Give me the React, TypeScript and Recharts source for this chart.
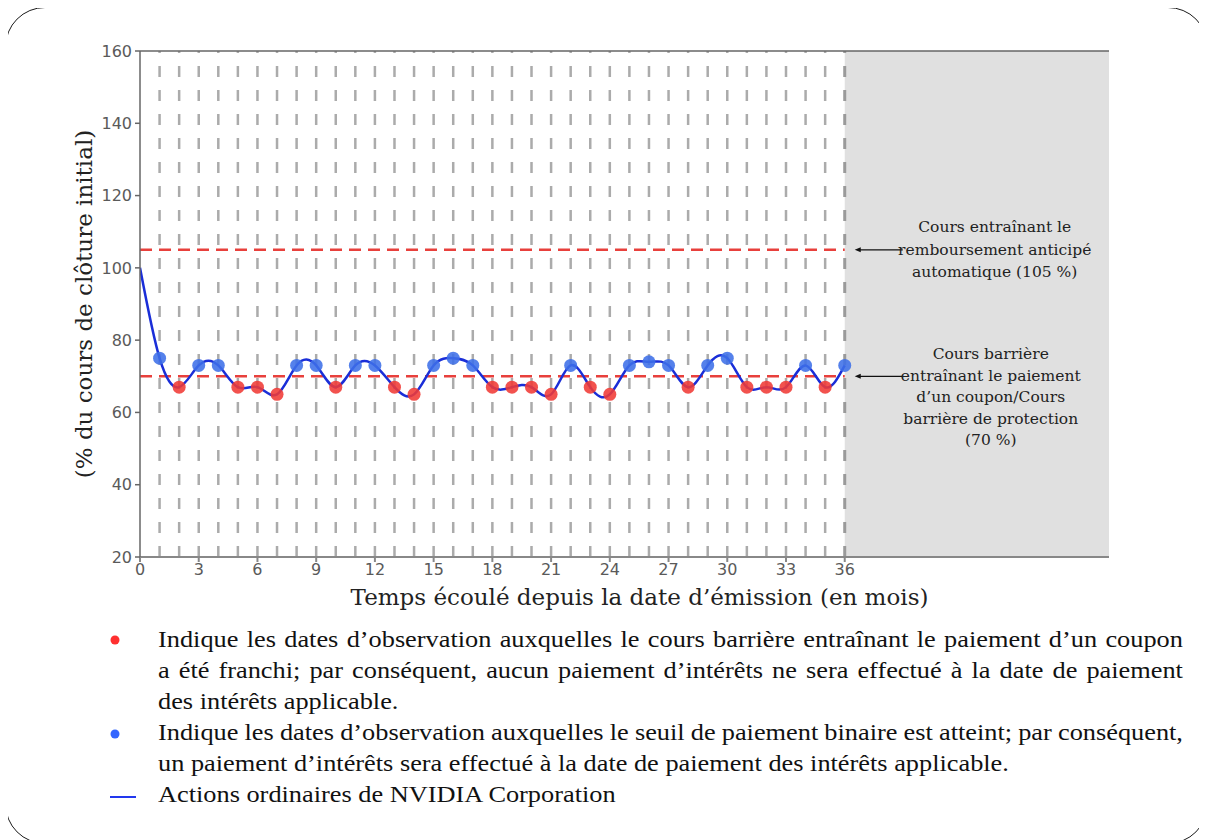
import React from 'react';
import {
  ComposedChart,
  Line,
  Scatter,
  XAxis,
  YAxis,
  ReferenceLine,
  ReferenceArea,
  ReferenceDot,
} from 'recharts';

// ---- data ----
const months = [0, 1, 2, 3, 4, 5, 6, 7, 8, 9, 10, 11, 12, 13, 14, 15, 16, 17, 18, 19, 20, 21, 22, 23, 24, 25, 26, 27, 28, 29, 30, 31, 32, 33, 34, 35, 36];
const closingLevels = [100, 75, 67, 73, 73, 67, 67, 65, 73, 73, 67, 73, 73, 67, 65, 73, 75, 73, 67, 67, 67, 65, 73, 67, 65, 73, 74, 73, 67, 73, 75, 67, 67, 67, 73, 67, 73];
const xTicks = [0, 3, 6, 9, 12, 15, 18, 21, 24, 27, 30, 33, 36];
const yTicks = [20, 40, 60, 80, 100, 120, 140, 160];
const gridMonths = [1, 2, 3, 4, 5, 6, 7, 8, 9, 10, 11, 12, 13, 14, 15, 16, 17, 18, 19, 20, 21, 22, 23, 24, 25, 26, 27, 28, 29, 30, 31, 32, 33, 34, 35];
const autocallLevel = 105;
const barrierLevel = 70;
const lastObservation = 36;
const axisEnd = 49.5;

const autocallText = ['Cours entraînant le', 'remboursement anticipé', 'automatique (105 %)'];
const barrierText = ['Cours barrière', 'entraînant le paiement', 'd’un coupon/Cours', 'barrière de protection', '(70 %)'];

const legendRed = [
  'Indique les dates d’observation auxquelles le cours barrière entraînant le paiement d’un coupon',
  'a été franchi; par conséquent, aucun paiement d’intérêts ne sera effectué à la date de paiement',
  'des intérêts applicable.',
];
const legendBlue = [
  'Indique les dates d’observation auxquelles le seuil de paiement binaire est atteint; par conséquent,',
  'un paiement d’intérêts sera effectué à la date de paiement des intérêts applicable.',
];
const legendLine = 'Actions ordinaires de NVIDIA Corporation';

const chartData = months.map((m, i) => ({ m, v: closingLevels[i] }));
const redPoints = chartData.filter((d) => d.m > 0 && d.v < barrierLevel);
const bluePoints = chartData.filter((d) => d.m > 0 && d.v >= barrierLevel);

const SERIF = '"DejaVu Serif", serif';
const TIMES = '"Liberation Serif", "Times New Roman", serif';

const redDot = (p: any) => <circle cx={p.cx} cy={p.cy} r={6.5} fill="#f03a36" fillOpacity={0.88} />;
const blueDot = (p: any) => <circle cx={p.cx} cy={p.cy} r={6.5} fill="#3d6fe8" fillOpacity={0.88} />;

const makeAnnotation = (lines: string[], dxText: number, firstDy: number, lh: number) => (p: any) => {
  const { cx, cy } = p;
  return (
    <g>
      <line x1={cx + 13} y1={cy} x2={cx + 58} y2={cy} stroke="#111" strokeWidth={1.2} />
      <polygon points={`${cx + 10},${cy} ${cx + 16},${cy - 2.5} ${cx + 16},${cy + 2.5}`} fill="#111" />
      <text x={cx + dxText} y={cy} textAnchor="middle" fontFamily={SERIF} fontSize={15.5} fill="#222">
        {lines.map((t, i) => (
          <tspan key={i} x={cx + dxText} y={cy + firstDy + i * lh} dominantBaseline="central">
            {t}
          </tspan>
        ))}
      </text>
    </g>
  );
};

const YLabel = (props: any) => {
  const vb = props.viewBox || {};
  const x = vb.x + 4;
  const y = vb.y + vb.height / 2;
  return (
    <text x={x} y={y} transform={`rotate(-90 ${x} ${y})`} textAnchor="middle" dominantBaseline="central" fontFamily={SERIF} fontSize={23} fill="#222">
      (% du cours de clôture initial)
    </text>
  );
};

const XLabel = (props: any) => {
  const vb = props.viewBox || {};
  const x = vb.x + vb.width / 2 + 15;
  const y = vb.y + 40;
  return (
    <text x={x} y={y} textAnchor="middle" dominantBaseline="central" fontFamily={SERIF} fontSize={23} fill="#222">
      Temps écoulé depuis la date d’émission (en mois)
    </text>
  );
};

const lineStyle: React.CSSProperties = {
  height: 31,
  lineHeight: '31px',
  whiteSpace: 'nowrap',
};

const JustifiedLine = ({ text }: { text: string }) => (
  <div style={{ ...lineStyle, display: 'flex', justifyContent: 'space-between' }}>
    {text.split(' ').map((w, i) => (
      <span key={i}>{w}</span>
    ))}
  </div>
);

export default function App() {
  const scale = 1.12;
  const textWidth = 1025 / scale;
  const renderLines = (lines: string[]) =>
    lines.map((t, i) =>
      i < lines.length - 1 ? (
        <JustifiedLine key={i} text={t} />
      ) : (
        <div key={i} style={lineStyle}>
          {t}
        </div>
      )
    );

  return (
    <div style={{ position: 'relative', width: 1199, height: 832 }}>
      <div
        style={{
          position: 'absolute',
          left: -3,
          top: -1,
          width: 1203,
          height: 837,
          border: '1.5px solid #1a1a1a',
          borderRadius: 40,
          boxSizing: 'border-box',
        }}
      />
      <div style={{ position: 'absolute', left: 0, top: 0 }}>
        <ComposedChart width={1160} height={620} data={chartData} margin={{ top: 43, right: 59, left: 72, bottom: 21 }}>
          <ReferenceArea x1={lastObservation} x2={axisEnd} y1={20} y2={160} fill="#e0e0e0" fillOpacity={1} stroke="none" />
          {gridMonths.map((m) => (
            <ReferenceLine key={m} x={m} stroke="#ababab" strokeWidth={2.5} strokeDasharray="11 13" />
          ))}
          <ReferenceLine x={lastObservation} stroke="#9a9a9a" strokeWidth={3} strokeDasharray="11 13" />
          <ReferenceLine y={160} stroke="#666" strokeWidth={1.5} />
          <ReferenceLine
            segment={[{ x: 0, y: autocallLevel }, { x: lastObservation, y: autocallLevel }]}
            stroke="#e8403c"
            strokeWidth={2.5}
            strokeDasharray="12 7"
          />
          <ReferenceLine
            segment={[{ x: 0, y: barrierLevel }, { x: lastObservation, y: barrierLevel }]}
            stroke="#e8403c"
            strokeWidth={2.5}
            strokeDasharray="12 7"
          />
          <XAxis
            type="number"
            dataKey="m"
            domain={[0, axisEnd]}
            ticks={xTicks}
            allowDataOverflow
            height={50}
            stroke="#888"
            strokeWidth={2}
            tickSize={5}
            tickMargin={2}
            tick={{ fontFamily: '"DejaVu Sans", sans-serif', fontSize: 16, fill: '#5a5a5a' }}
            label={<XLabel />}
          />
          <YAxis
            type="number"
            domain={[20, 160]}
            ticks={yTicks}
            allowDataOverflow
            width={60}
            stroke="#666"
            strokeWidth={1.5}
            tickSize={5}
            tickMargin={3}
            tick={{ fontFamily: '"DejaVu Sans", sans-serif', fontSize: 16, fill: '#5a5a5a' }}
            label={<YLabel />}
          />
          <Scatter data={redPoints} dataKey="v" shape={redDot} isAnimationActive={false} />
          <Scatter data={bluePoints} dataKey="v" shape={blueDot} isAnimationActive={false} />
          <Line
            type="natural"
            dataKey="v"
            stroke="#1a2ed8"
            strokeWidth={2.5}
            dot={false}
            activeDot={false}
            isAnimationActive={false}
          />
          <ReferenceDot x={lastObservation} y={autocallLevel} r={0} shape={makeAnnotation(autocallText, 150, -22.5, 22.5)} />
          <ReferenceDot x={lastObservation} y={barrierLevel} r={0} shape={makeAnnotation(barrierText, 146, -22, 21.5)} />
        </ComposedChart>
      </div>

      <div style={{ position: 'absolute', left: 0, top: 608, width: 1199, fontFamily: TIMES, fontSize: 23.5, color: '#111' }}>
        <svg width={140} height={200} style={{ position: 'absolute', left: 0, top: 0 }}>
          <circle cx={107} cy={24} r={4.5} fill="#ff3030" />
          <circle cx={107} cy={118} r={4.5} fill="#3366ff" />
          <line x1={102} y1={181} x2={128} y2={181} stroke="#2238ee" strokeWidth={2} />
        </svg>
        <div
          style={{
            position: 'absolute',
            left: 150,
            top: 8,
            width: textWidth,
            transform: `scaleX(${scale})`,
            transformOrigin: 'left top',
          }}
        >
          {renderLines(legendRed)}
          {renderLines(legendBlue)}
          <div style={lineStyle}>{legendLine}</div>
        </div>
      </div>
    </div>
  );
}
